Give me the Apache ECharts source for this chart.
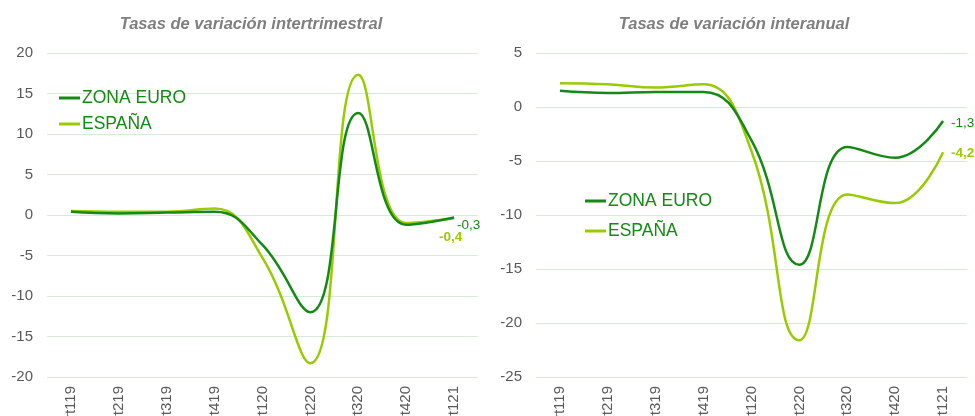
<!DOCTYPE html>
<html>
<head>
<meta charset="utf-8">
<script src="https://cdn.jsdelivr.net/npm/echarts@6/dist/echarts.min.js"></script>
<style>
html,body{margin:0;padding:0;background:#fff;}
#c{width:975px;height:416px;}
</style>
</head>
<body>
<div id="c"></div>
<script>
const categories = ['Trt119','Trt219','Trt319','Trt419','Trt120','Trt220','Trt320','Trt420','Trt121'];
const qoqEuro  = [0.4, 0.2, 0.3, 0.4, -3.7, -12.0, 12.6, -1.2, -0.3];
const qoqSpain = [0.5, 0.4, 0.4, 0.8, -5.3, -18.3, 17.3, -1.0, -0.4];
const yoyEuro  = [1.5, 1.3, 1.4, 1.4, -3.1, -14.6, -3.7, -4.7, -1.3];
const yoySpain = [2.2, 2.1, 1.8, 2.1, -4.1, -21.6, -8.1, -8.9, -4.2];
const qoqTicks = {min: -20, max: 20, interval: 5};
const yoyTicks = {min: -25, max: 5, interval: 5};
const titles = ['Tasas de variación intertrimestral', 'Tasas de variación interanual'];
const names = ['ZONA EURO', 'ESPAÑA'];

const GREEN = '#138a13';
const LIME = '#99cc00';
const GRID = '#d9e9d9';
const TXT = '#595959';
const FONT = 'Liberation Sans, Arial, sans-serif';
const fmt = v => v.toFixed(1).replace('.', ',');

function yAxis(idx, t) {
  return {
    type: 'value', gridIndex: idx, min: t.min, max: t.max, interval: t.interval,
    axisLine: {show: false}, axisTick: {show: false},
    axisLabel: {color: TXT, fontSize: 15, margin: 14, fontFamily: FONT},
    splitLine: {lineStyle: {color: GRID, width: 1}}
  };
}
function xAxis(idx) {
  return {
    type: 'category', gridIndex: idx, data: categories, boundaryGap: true,
    axisLine: {show: false}, axisTick: {show: false},
    axisLabel: {rotate: 90, color: TXT, fontSize: 15, margin: 9, interval: 0, fontFamily: FONT}
  };
}
function line(name, idx, data, color, bold, offset) {
  return {
    name: name, type: 'line', xAxisIndex: idx, yAxisIndex: idx, data: data,
    smooth: 0.45, symbol: 'none', showSymbol: false,
    lineStyle: {color: color, width: 2.5}, itemStyle: {color: color},
    endLabel: {
      show: true, distance: 4, offset: offset,
      formatter: p => fmt(p.value),
      color: color, fontSize: 13.5, fontWeight: bold ? 'bold' : 'normal', fontFamily: FONT
    },
    z: name === names[0] ? 3 : 2
  };
}

const chart = echarts.init(document.getElementById('c'), null, {renderer: 'canvas'});
chart.setOption({
  animation: false,
  backgroundColor: '#fff',
  title: [
    {text: titles[0], left: 246, top: 11, textAlign: 'center',
     textStyle: {color: '#7f7f7f', fontSize: 16.5, fontStyle: 'italic', fontWeight: 'bold', fontFamily: FONT}},
    {text: titles[1], left: 729, top: 11, textAlign: 'center',
     textStyle: {color: '#7f7f7f', fontSize: 16.5, fontStyle: 'italic', fontWeight: 'bold', fontFamily: FONT}}
  ],
  grid: [
    {left: 47, top: 53, width: 431, height: 324, outerBoundsMode: 'none', containLabel: false},
    {left: 536, top: 53, width: 431, height: 324, outerBoundsMode: 'none', containLabel: false}
  ],
  legend: [
    {orient: 'vertical', left: 54, top: 84, itemWidth: 21, itemHeight: 3, itemGap: 8, icon: 'rect',
     data: names, selectedMode: false,
     textStyle: {color: GREEN, fontSize: 17.5, padding: [0, 0, 0, -3], fontFamily: FONT}},
    {orient: 'vertical', left: 580, top: 187, itemWidth: 21, itemHeight: 3, itemGap: 12, icon: 'rect',
     data: names, selectedMode: false,
     textStyle: {color: GREEN, fontSize: 17.5, padding: [0, 0, 0, -3], fontFamily: FONT}}
  ],
  xAxis: [xAxis(0), xAxis(1)],
  yAxis: [yAxis(0, qoqTicks), yAxis(1, yoyTicks)],
  series: [
    line(names[0], 0, qoqEuro, GREEN, false, [-1, 8]),
    line(names[1], 0, qoqSpain, LIME, true, [-19, 19]),
    line(names[0], 1, yoyEuro, GREEN, false, [4, 2]),
    line(names[1], 1, yoySpain, LIME, true, [4, 1])
  ]
});
</script>
</body>
</html>
